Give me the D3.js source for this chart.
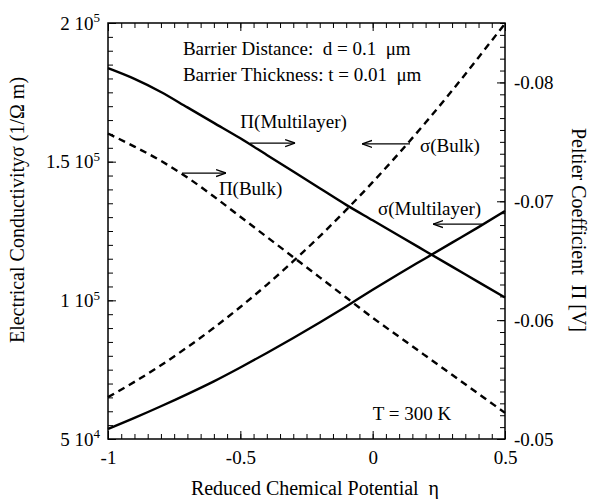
<!DOCTYPE html>
<html>
<head>
<meta charset="utf-8">
<script src="https://cdn.jsdelivr.net/npm/d3@7"></script>
<style>
  body { margin: 0; background: #fff; }
  svg text { font-family: "Liberation Serif", "DejaVu Serif", serif !important; fill: #000; white-space: pre; }
</style>
</head>
<body>
<div id="wrapper"></div>
<script>
// reduced chemical potential
const eta = [-1, -0.9, -0.8, -0.7, -0.6, -0.5, -0.4, -0.3, -0.2, -0.1, 0, 0.1, 0.2, 0.3, 0.4, 0.5]

// conductivity, 1/(ohm m)
const sigmaMultilayer = [53600, 57600, 61800, 66200, 70800, 75800, 81000, 86400, 92000, 97800, 103800, 109600, 115200, 120800, 126400, 132200]
const sigmaBulk = [65100, 70600, 76600, 83100, 90100, 97600, 105600, 114100, 123100, 132600, 142600, 153100, 164100, 175600, 187600, 199800]

// peltier coefficient, V
const piMultilayer = [-0.0812, -0.0803, -0.0792, -0.0779, -0.0766, -0.0753, -0.0739, -0.0725, -0.0711, -0.0697, -0.0684, -0.0671, -0.0658, -0.0645, -0.0632, -0.0619]
const piBulk = [-0.0757, -0.0746, -0.0734, -0.0720, -0.0704, -0.0687, -0.0670, -0.0653, -0.0636, -0.0619, -0.0602, -0.0586, -0.0570, -0.0554, -0.0538, -0.0522]

// ticks
const xTicks = [-1, -0.5, 0, 0.5]
const leftTicks = [50000, 100000, 150000, 200000]
const leftTickBase = ["5 10", "1 10", "1.5 10", "2 10"]
const leftTickExp = ["4", "5", "5", "5"]
const rightTicks = [-0.05, -0.06, -0.07, -0.08]

// notes, placed in (eta, sigma) units
const noteText = ["Barrier Distance:  d = 0.1  μm", "Barrier Thickness: t = 0.01  μm", "Π(Multilayer)", "σ(Bulk)", "Π(Bulk)", "σ(Multilayer)", "T = 300 K"]
const noteEta = [-0.717, -0.717, -0.50, 0.179, -0.581, 0.020, 0.0]
const noteSigma = [188500, 179100, 162100, 153500, 138000, 130800, 56900]

const arrowEtaFrom = [-0.463, 0.141, -0.720, 0.413]
const arrowEtaTo = [-0.293, -0.040, -0.554, 0.228]
const arrowSigma = [156700, 156400, 145900, 127500]

function drawChart() {

  let dimensions = {
    width: 590,
    height: 499,
    margin: {
      top: 23,
      right: 85,
      bottom: 60,
      left: 108,
    },
  }
  dimensions.boundedWidth = dimensions.width - dimensions.margin.left - dimensions.margin.right
  dimensions.boundedHeight = dimensions.height - dimensions.margin.top - dimensions.margin.bottom

  const wrapper = d3.select("#wrapper")
    .append("svg")
      .attr("width", dimensions.width)
      .attr("height", dimensions.height)

  const bounds = wrapper.append("g")
      .attr("transform", `translate(${dimensions.margin.left},${dimensions.margin.top})`)

  const xScale = d3.scaleLinear()
    .domain([-1, 0.5])
    .range([0, dimensions.boundedWidth])

  const yLeft = d3.scaleLinear()
    .domain([50000, 200000])
    .range([dimensions.boundedHeight, 0])

  const yRight = d3.scaleLinear()
    .domain([-0.05, -0.085])
    .range([dimensions.boundedHeight, 0])

  // minor ticks
  const minorX = d3.range(-1, 0.5001, 0.05)
  const minorLeft = d3.range(50000, 200001, 5000)
  const minorRight = d3.range(-0.05, -0.08501, -0.001)

  bounds.append("g")
      .attr("transform", `translate(0,${dimensions.boundedHeight})`)
      .call(d3.axisBottom(xScale).tickValues(minorX).tickSize(-5).tickFormat(""))
  bounds.append("g")
      .call(d3.axisTop(xScale).tickValues(minorX).tickSize(-5).tickFormat(""))
  bounds.append("g")
      .call(d3.axisLeft(yLeft).tickValues(minorLeft).tickSize(-5).tickFormat(""))
  bounds.append("g")
      .attr("transform", `translate(${dimensions.boundedWidth},0)`)
      .call(d3.axisRight(yRight).tickValues(minorRight).tickSize(-5).tickFormat(""))

  // major ticks + labels
  const xAxis = bounds.append("g")
      .attr("transform", `translate(0,${dimensions.boundedHeight})`)
      .call(d3.axisBottom(xScale).tickValues(xTicks).tickSize(-8).tickPadding(12).tickFormat(d => String(d)))
  bounds.append("g")
      .call(d3.axisTop(xScale).tickValues(xTicks).tickSize(-8).tickFormat(""))

  const yAxisLeft = bounds.append("g")
      .call(d3.axisLeft(yLeft).tickValues(leftTicks).tickSize(-8).tickPadding(8))

  yAxisLeft.selectAll(".tick text").each(function(d, i) {
    const t = d3.select(this)
    t.text(null)
    t.append("tspan").text(leftTickBase[i])
    t.append("tspan").attr("dy", "-0.55em").style("font-size", "13px").text(leftTickExp[i])
  })

  const yAxisRight = bounds.append("g")
      .attr("transform", `translate(${dimensions.boundedWidth},0)`)
      .call(d3.axisRight(yRight).tickValues(rightTicks).tickSize(-8).tickPadding(9).tickFormat(d => d.toFixed(2)))

  bounds.selectAll(".domain").remove()
  bounds.selectAll("g").attr("font-family", null)
  bounds.selectAll(".tick line").attr("stroke", "#000").attr("stroke-width", 1)
  bounds.selectAll(".tick text")
      .style("font-size", "19px")
      .attr("fill", "#000")

  // frame
  bounds.append("rect")
      .attr("width", dimensions.boundedWidth)
      .attr("height", dimensions.boundedHeight)
      .attr("fill", "none")
      .attr("stroke", "#000")
      .attr("stroke-width", 1.5)

  // curves
  const idx = d3.range(eta.length)
  const leftLine = arr => d3.line()
      .x(i => xScale(eta[i]))
      .y(i => yLeft(arr[i]))
      .curve(d3.curveMonotoneX)
  const rightLine = arr => d3.line()
      .x(i => xScale(eta[i]))
      .y(i => yRight(arr[i]))
      .curve(d3.curveMonotoneX)

  const series = [
    { path: leftLine(sigmaMultilayer)(idx), dash: null },
    { path: leftLine(sigmaBulk)(idx), dash: "7,5" },
    { path: rightLine(piMultilayer)(idx), dash: null },
    { path: rightLine(piBulk)(idx), dash: "7,5" },
  ]

  bounds.selectAll(".curve")
    .data(series)
    .enter().append("path")
      .attr("class", "curve")
      .attr("d", d => d.path)
      .attr("fill", "none")
      .attr("stroke", "#000")
      .attr("stroke-width", 2.4)
      .attr("stroke-dasharray", d => d.dash)

  // arrows
  wrapper.append("defs").append("marker")
      .attr("id", "head")
      .attr("viewBox", "0 -5 10 10")
      .attr("refX", 10)
      .attr("refY", 0)
      .attr("markerWidth", 10)
      .attr("markerHeight", 10)
      .attr("markerUnits", "userSpaceOnUse")
      .attr("orient", "auto")
    .append("path")
      .attr("d", "M0,-3.5L10,0L0,3.5")
      .attr("fill", "none")
      .attr("stroke", "#000")
      .attr("stroke-width", 1.3)

  bounds.selectAll(".arrow")
    .data(d3.range(arrowSigma.length))
    .enter().append("line")
      .attr("class", "arrow")
      .attr("x1", i => xScale(arrowEtaFrom[i]))
      .attr("x2", i => xScale(arrowEtaTo[i]))
      .attr("y1", i => yLeft(arrowSigma[i]))
      .attr("y2", i => yLeft(arrowSigma[i]))
      .attr("stroke", "#000")
      .attr("stroke-width", 1.2)
      .attr("marker-end", "url(#head)")

  bounds.selectAll(".note")
    .data(d3.range(noteText.length))
    .enter().append("text")
      .attr("class", "note")
      .attr("x", i => xScale(noteEta[i]))
      .attr("y", i => yLeft(noteSigma[i]))
      .style("font-size", "19px")
      .text(i => noteText[i])

  // axis titles
  wrapper.append("text")
      .attr("x", 315)
      .attr("y", 495)
      .attr("text-anchor", "middle")
      .style("font-size", "20px")
      .text("Reduced Chemical Potential  η")

  wrapper.append("text")
      .attr("transform", "translate(24,210) rotate(-90)")
      .attr("text-anchor", "middle")
      .style("font-size", "20px")
      .text("Electrical Conductivityσ (1/Ω m)")

  wrapper.append("text")
      .attr("transform", "translate(572,230) rotate(90)")
      .attr("text-anchor", "middle")
      .style("font-size", "20px")
      .text("Peltier Coefficient  Π [V]")
}

drawChart()
</script>
</body>
</html>
